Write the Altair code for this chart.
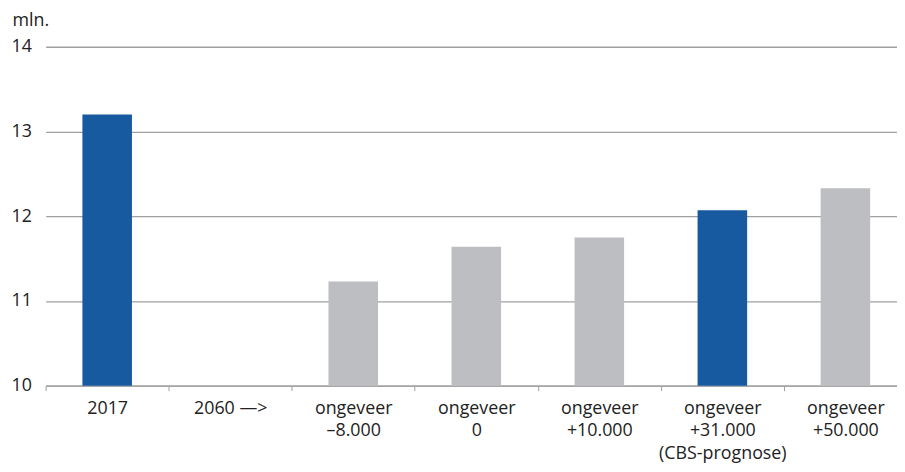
import altair as alt
import pandas as pd

categories = ["2017", "2060 —>", "ongeveer|–8.000", "ongeveer|0", "ongeveer|+10.000",
              "ongeveer|+31.000|(CBS-prognose)", "ongeveer|+50.000"]
values = [13.2, None, 11.23, 11.64, 11.75, 12.07, 12.33]
highlight = [True, False, False, False, False, True, False]
y_ticks = [10, 11, 12, 13, 14]

df = pd.DataFrame({"cat": categories, "val": values, "hl": highlight}).dropna()

FONT = "Open Sans"
FS = 18
TXT = "#222222"

chart = alt.Chart(df).mark_bar(width=50).encode(
    x=alt.X("cat:N", sort=categories,
            scale=alt.Scale(domain=categories, range=[0, 869], paddingInner=0, paddingOuter=0),
            axis=alt.Axis(title=None, labelAngle=0, tickBand="extent",
                          labelExpr="split(datum.label, '|')",
                          labelFont=FONT, labelFontSize=FS, labelColor=TXT,
                          labelLineHeight=22.5, labelPadding=9, tickSize=5,
                          tickColor="#a0a0a0", domainColor="#a0a0a0", domainWidth=1.3,
                          grid=False)),
    y=alt.Y("val:Q", scale=alt.Scale(domain=[10, 14], zero=False, nice=False),
            axis=alt.Axis(values=y_ticks, title="mln.", titleAngle=0, titleAlign="left",
                          titleX=-34, titleY=-21, titleBaseline="alphabetic",
                          titleFont=FONT, titleFontSize=FS, titleFontWeight="normal",
                          titleColor=TXT, labelFont=FONT, labelFontSize=FS, labelColor=TXT,
                          labelAlign="left", labelPadding=35, ticks=False, domain=False,
                          grid=True, gridColor="#a0a0a0", gridWidth=1.3)),
    y2=alt.datum(10),
    color=alt.Color("hl:N", scale=alt.Scale(domain=[True, False], range=["#185AA0", "#BDBEC2"]),
                    legend=None),
).properties(
    width=859, height=342, autosize="none",
    padding={"left": 38, "top": 37, "right": 0, "bottom": 85},
).configure_view(stroke=None)

chart.save("out.html", embed_options={"renderer": "svg", "actions": False})
